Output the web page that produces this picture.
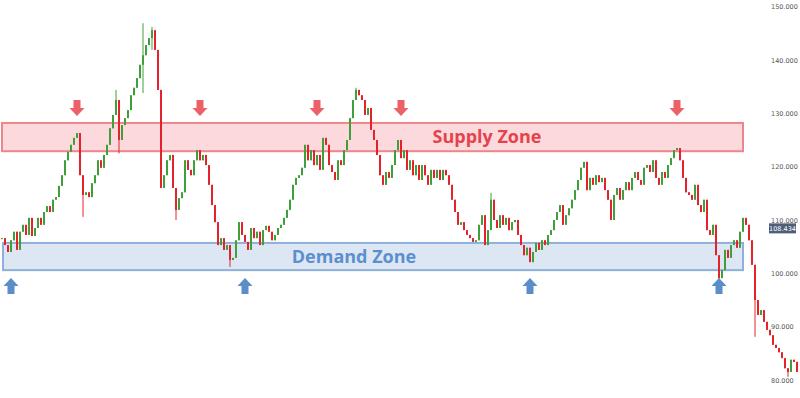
<!DOCTYPE html>
<html>
<head>
<meta charset="utf-8">
<script src="https://cdn.jsdelivr.net/npm/d3@7"></script>
<style>
	html, body { margin: 0; padding: 0; background: #fff; }
	svg { display: block; }
</style>
</head>
<body>
<div id="chart"></div>
<script>
// closing prices, one per candle (open = previous close)
const closes = [
	106.6, 105.3, 104.0, 106.2, 107.8, 104.4, 107.8, 109.1, 107.2, 110.4,
	107.0, 108.5, 110.4, 109.1, 111.5, 112.6, 111.5, 113.8, 114.3, 116.4,
	118.4, 121.2, 122.8, 124.1, 125.4, 126.3, 118.4, 114.7, 115.2, 114.3,
	116.9, 118.4, 121.2, 119.8, 122.2, 124.1, 127.2, 129.7, 132.5, 125.0,
	127.8, 129.1, 130.6, 133.4, 134.8, 136.6, 139.1, 140.9, 142.8, 144.1,
	145.6, 141.9, 134.4, 116.0, 118.4, 121.2, 122.2, 116.0, 111.9, 114.1,
	115.2, 121.2, 119.4, 118.4, 121.2, 123.1, 121.2, 122.2, 120.3, 116.6,
	112.8, 109.6, 105.3, 106.6, 104.4, 105.3, 102.5, 102.9, 106.2, 109.6,
	107.2, 105.9, 104.4, 108.5, 106.6, 107.8, 105.3, 108.1, 108.9, 107.8,
	106.2, 107.2, 108.5, 109.1, 110.4, 111.9, 113.8, 116.6, 117.9, 118.4,
	119.8, 124.1, 121.2, 123.1, 120.3, 122.2, 119.4, 125.4, 124.1, 120.3,
	119.0, 117.5, 121.2, 120.3, 123.1, 125.0, 129.1, 132.5, 134.4, 133.4,
	132.5, 129.7, 131.0, 126.9, 125.0, 122.2, 118.4, 116.6, 119.0, 117.9,
	120.3, 123.1, 125.0, 121.6, 123.1, 119.4, 121.2, 118.4, 120.3, 117.5,
	120.3, 118.4, 116.6, 119.4, 117.9, 119.4, 117.5, 119.4, 118.4, 116.6,
	113.8, 111.5, 109.1, 109.6, 108.1, 107.2, 106.6, 105.9, 106.2, 109.1,
	110.9, 105.3, 108.1, 113.8, 110.0, 108.5, 110.9, 109.1, 110.4, 108.1,
	109.6, 110.0, 107.2, 105.3, 103.4, 104.8, 102.1, 104.0, 105.7, 104.4,
	106.2, 105.3, 107.2, 108.1, 110.0, 111.5, 112.8, 109.1, 110.9, 112.2,
	113.8, 115.6, 117.5, 119.8, 120.9, 115.6, 117.9, 116.6, 118.4, 117.1,
	117.9, 115.6, 113.8, 110.0, 114.7, 116.0, 113.8, 115.6, 117.1, 115.6,
	117.9, 119.0, 117.5, 116.6, 119.8, 120.3, 119.0, 121.2, 117.9, 116.6,
	119.0, 117.9, 120.3, 121.6, 123.1, 123.5, 121.2, 117.9, 115.2, 114.7,
	113.8, 116.6, 112.8, 111.5, 113.8, 108.1, 107.2, 109.1, 103.4, 99.1,
	100.6, 104.4, 102.9, 105.3, 106.2, 104.8, 107.8, 110.4, 109.1, 106.2,
	101.6, 95.0, 92.2, 93.1, 90.9, 89.4, 88.4, 86.6, 86.0, 85.2,
	84.1, 82.2, 81.5, 83.8, 83.4, 81.5
];

// long wicks: [candle index, high, low]
const wicks = [
	[27, 114.7, 110.6], [38, 134.4, 129.7], [39, 132.5, 122.5], [47, 146.9, 133.8],
	[50, 146.2, 141.9], [58, 116.0, 110.0], [76, 105.3, 101.2], [118, 134.8, 132.5],
	[163, 115.1, 108.1], [239, 103.4, 98.5], [251, 101.6, 88.1], [262, 82.2, 80.6]
];

const priceTicks = [80, 90, 100, 110, 120, 130, 140, 150];
const lastPrice = 108.434;

const supplyZone = [122.9, 128.2];
const demandZone = [100.6, 105.7];
const zoneLabels = ['Supply Zone', 'Demand Zone'];

// candle indices the arrows point at
const supplyTouches = [25, 66, 105, 133, 225];
const demandTouches = [3, 81, 176, 239];

const width = 800;
const height = 398;

const green = '#3f9f3a';
const red = '#e5222c';

const candles = closes.map((c, i) => {
	const open = i === 0 ? c : closes[i - 1];
	const w = wicks.find((d) => d[0] === i);
	return {
		i: i,
		open: open,
		close: c,
		high: w ? Math.max(w[1], open, c) : Math.max(open, c),
		low: w ? Math.min(w[2], open, c) : Math.min(open, c)
	};
});

const svg = d3
	.select('#chart')
	.append('svg')
	.attr('width', width)
	.attr('height', height);

const xScale = d3
	.scaleLinear()
	.domain([0, closes.length - 1])
	.range([2, 797]);

const yScale = d3
	.scaleLinear()
	.domain([80, 150])
	.range([380, 6.7]);

// zones
const zoneLeft = 2;
const zoneRight = 743;

svg
	.append('rect')
	.attr('x', zoneLeft)
	.attr('y', yScale(supplyZone[1]))
	.attr('width', zoneRight - zoneLeft)
	.attr('height', yScale(supplyZone[0]) - yScale(supplyZone[1]))
	.attr('fill', '#fbd9dc')
	.attr('stroke', '#ec868b')
	.attr('stroke-width', 2);

svg
	.append('rect')
	.attr('x', zoneLeft + 1)
	.attr('y', yScale(demandZone[1]))
	.attr('width', zoneRight - zoneLeft - 1)
	.attr('height', yScale(demandZone[0]) - yScale(demandZone[1]))
	.attr('fill', '#dde7f3')
	.attr('stroke', '#8db1da')
	.attr('stroke-width', 2);

// candles
const g = svg.append('g');

g.selectAll('line.wick')
	.data(candles)
	.enter()
	.append('line')
	.attr('class', 'wick')
	.attr('x1', (d) => xScale(d.i))
	.attr('x2', (d) => xScale(d.i))
	.attr('y1', (d) => yScale(d.high))
	.attr('y2', (d) => yScale(d.low))
	.attr('stroke', (d) => (d.close >= d.open ? green : red))
	.attr('stroke-width', 1);

g.selectAll('rect.body')
	.data(candles)
	.enter()
	.append('rect')
	.attr('class', 'body')
	.attr('x', (d) => xScale(d.i) - 1)
	.attr('y', (d) => yScale(Math.max(d.open, d.close)))
	.attr('width', 2)
	.attr('height', (d) => Math.max(1, Math.abs(yScale(d.open) - yScale(d.close))))
	.attr('fill', (d) => (d.close >= d.open ? green : red));

// zone labels
svg
	.append('text')
	.attr('x', 487)
	.attr('y', yScale((supplyZone[0] + supplyZone[1]) / 2))
	.attr('dy', '0.35em')
	.attr('text-anchor', 'middle')
	.attr('font-family', '"Open Sans", sans-serif')
	.attr('font-weight', 700)
	.attr('font-size', 18)
	.attr('fill', '#e5434b')
	.text(zoneLabels[0]);

svg
	.append('text')
	.attr('x', 354)
	.attr('y', yScale((demandZone[0] + demandZone[1]) / 2))
	.attr('dy', '0.35em')
	.attr('text-anchor', 'middle')
	.attr('font-family', '"Open Sans", sans-serif')
	.attr('font-weight', 700)
	.attr('font-size', 18)
	.attr('fill', '#5c8fcf')
	.text(zoneLabels[1]);

// arrows
const downArrow = (x) => `M${x - 3.5},100 h7 v8 h4 l-7.5,8 l-7.5,-8 h4 z`;
const upArrow = (x) => `M${x},278 l7.5,8 h-4 v8 h-7 v-8 h-4 z`;

svg
	.selectAll('path.down')
	.data(supplyTouches)
	.enter()
	.append('path')
	.attr('class', 'down')
	.attr('d', (d) => downArrow(xScale(d)))
	.attr('fill', '#ec6169');

svg
	.selectAll('path.up')
	.data(demandTouches)
	.enter()
	.append('path')
	.attr('class', 'up')
	.attr('d', (d) => upArrow(xScale(d)))
	.attr('fill', '#5b8ec8');

// right price axis
const yAxis = d3
	.axisRight(yScale)
	.tickValues(priceTicks)
	.tickSize(0)
	.tickPadding(0)
	.tickFormat(d3.format('.3f'));

const axisG = svg.append('g').attr('transform', 'translate(771,0)').call(yAxis);
axisG.select('.domain').remove();
axisG
	.selectAll('text')
	.attr('font-family', '"DejaVu Sans", sans-serif')
	.attr('font-size', 6.5)
	.attr('fill', '#555');

// last price marker
const lp = svg.append('g').attr('transform', `translate(769,${yScale(lastPrice)})`);
lp.append('rect')
	.attr('x', 0)
	.attr('y', -5)
	.attr('width', 27)
	.attr('height', 10)
	.attr('fill', '#4e5d78');
lp.append('text')
	.attr('x', 13.5)
	.attr('dy', '0.35em')
	.attr('text-anchor', 'middle')
	.attr('font-family', '"DejaVu Sans", sans-serif')
	.attr('font-size', 6.5)
	.attr('fill', '#fff')
	.text(d3.format('.3f')(lastPrice));
</script>
</body>
</html>
